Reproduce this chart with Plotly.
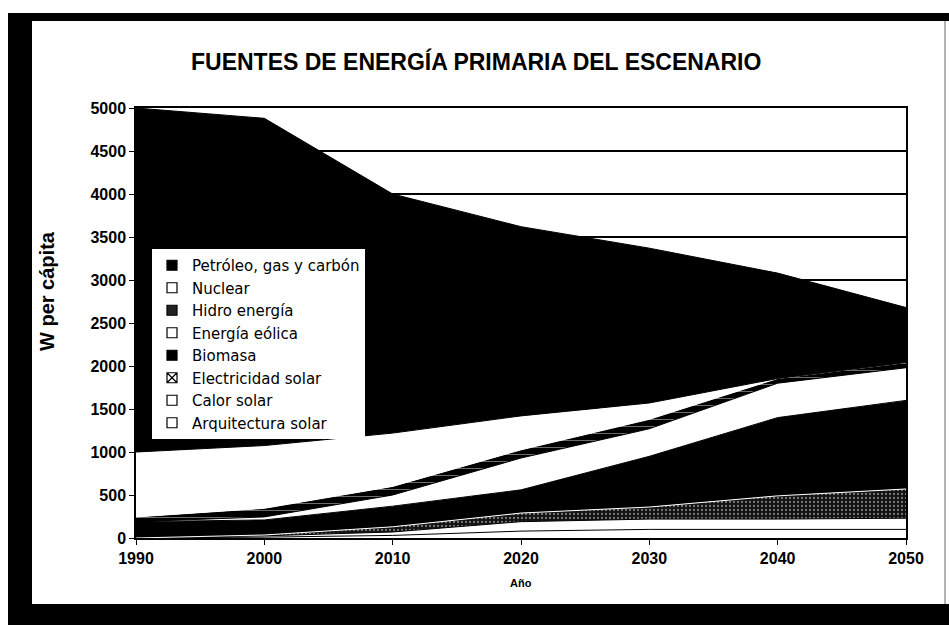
import plotly.graph_objects as go

years = [1990, 2000, 2010, 2020, 2030, 2040, 2050]

arquitectura_solar = [0, 10, 30, 80, 100, 100, 100]
calor_solar = [0, 15, 40, 110, 120, 120, 130]
electricidad_solar = [0, 10, 60, 100, 140, 270, 340]
biomasa = [190, 175, 240, 270, 590, 910, 1030]
energia_eolica = [0, 35, 130, 370, 320, 400, 380]
hidro_energia = [55, 100, 100, 95, 110, 55, 60]
nuclear = [755, 730, 620, 395, 190, 0, 0]
petroleo_gas_carbon = [4000, 3805, 2780, 2200, 1800, 1225, 640]

series = [
    ("Arquitectura solar", arquitectura_solar),
    ("Calor solar", calor_solar),
    ("Electricidad solar", electricidad_solar),
    ("Biomasa", biomasa),
    ("Energía eólica", energia_eolica),
    ("Hidro energía", hidro_energia),
    ("Nuclear", nuclear),
    ("Petróleo, gas y carbón", petroleo_gas_carbon),
]

styles = {
    "Arquitectura solar": dict(fill="white", line="black", pattern=None, sym="square-open", mcol="black"),
    "Calor solar": dict(fill="white", line="black", pattern=None, sym="square-open", mcol="black"),
    "Electricidad solar": dict(fill="#222222", line="white",
                               pattern=dict(shape=".", bgcolor="#111111", fgcolor="#dddddd", size=4, solidity=0.25),
                               sym="square-x-open", mcol="black"),
    "Biomasa": dict(fill="black", line="black", pattern=None, sym="square", mcol="black"),
    "Energía eólica": dict(fill="white", line="black", pattern=None, sym="square-open", mcol="black"),
    "Hidro energía": dict(fill="black", line="white",
                          pattern=dict(shape="-", bgcolor="black", fgcolor="white", size=7, solidity=0.12),
                          sym="square", mcol="#222222"),
    "Nuclear": dict(fill="white", line="black", pattern=None, sym="square-open", mcol="black"),
    "Petróleo, gas y carbón": dict(fill="black", line="black", pattern=None, sym="square", mcol="black"),
}

fig = go.Figure()
for name, vals in series:
    st = styles[name]
    kw = {}
    if st["pattern"] is not None:
        kw["fillpattern"] = st["pattern"]
    fig.add_trace(go.Scatter(
        x=years, y=vals, name=name, mode="lines", stackgroup="one",
        fillcolor=st["fill"], line=dict(color=st["line"], width=1),
        showlegend=False, hoverinfo="skip", **kw))

# legend entries (square markers)
for name, vals in series:
    st = styles[name]
    fig.add_trace(go.Scatter(
        x=[None], y=[None], name=name, mode="markers",
        marker=dict(symbol=st["sym"], size=10, color=st["mcol"],
                    line=dict(color="black", width=1.2)),
        showlegend=True))

W, H = 949, 625
L, R, T, B = 136, 43, 108, 87
pw, ph = W - L - R, H - T - B

def px(x):
    return (x - L) / pw

def py(y):
    return (H - B - y) / ph

shapes = [
    dict(type="rect", xref="paper", yref="paper", x0=px(8), x1=px(32), y0=py(625), y1=py(14),
         fillcolor="black", line=dict(width=0), layer="above"),
    dict(type="rect", xref="paper", yref="paper", x0=px(8), x1=px(949), y0=py(21), y1=py(13),
         fillcolor="black", line=dict(width=0), layer="above"),
    dict(type="rect", xref="paper", yref="paper", x0=px(8), x1=px(949), y0=py(625), y1=py(604),
         fillcolor="black", line=dict(width=0), layer="above"),
    dict(type="line", xref="paper", yref="paper", x0=px(945), x1=px(945), y0=py(604), y1=py(21),
         line=dict(color="#999999", width=1.5), layer="above"),
]

BOLD = dict(family="Liberation Sans, Arial, sans-serif", weight=700, color="black")

fig.update_layout(
    width=W, height=H,
    margin=dict(l=L, r=R, t=T, b=B),
    paper_bgcolor="white", plot_bgcolor="white",
    font=dict(family="Liberation Sans, Arial, sans-serif", color="black"),
    shapes=shapes,
    showlegend=True,
    legend=dict(x=px(152), y=py(249), xanchor="left", yanchor="top",
                bgcolor="white", borderwidth=0, traceorder="reversed",
                font=dict(family="DejaVu Sans, Verdana, sans-serif", size=15, color="black"),
                itemwidth=30),
    annotations=[
        dict(text="FUENTES DE ENERGÍA PRIMARIA DEL ESCENARIO", xref="paper", yref="paper",
             x=px(476), y=py(62), showarrow=False, xanchor="center", yanchor="middle",
             font=dict(BOLD, size=23)),
        dict(text="W per cápita", xref="paper", yref="paper",
             x=px(47), y=py(291), showarrow=False, textangle=-90, xanchor="center", yanchor="middle",
             font=dict(BOLD, size=20)),
        dict(text="Año", xref="paper", yref="paper",
             x=px(521), y=py(583), showarrow=False, xanchor="center", yanchor="middle",
             font=dict(BOLD, size=11)),
    ],
    xaxis=dict(range=[1990, 2050], tickvals=years, ticktext=[str(y) for y in years],
               ticks="outside", ticklen=5, tickcolor="black", showgrid=False,
               showline=True, linecolor="black", linewidth=1.5, mirror=True,
               tickfont=dict(BOLD, size=16), zeroline=False),
    yaxis=dict(range=[0, 5000], dtick=500, ticks="outside", ticklen=5, tickcolor="black",
               showgrid=True, gridcolor="black", gridwidth=1.5,
               showline=True, linecolor="black", linewidth=1.5, mirror=True,
               tickfont=dict(BOLD, size=16), zeroline=False),
)

fig.write_html("out.html")
